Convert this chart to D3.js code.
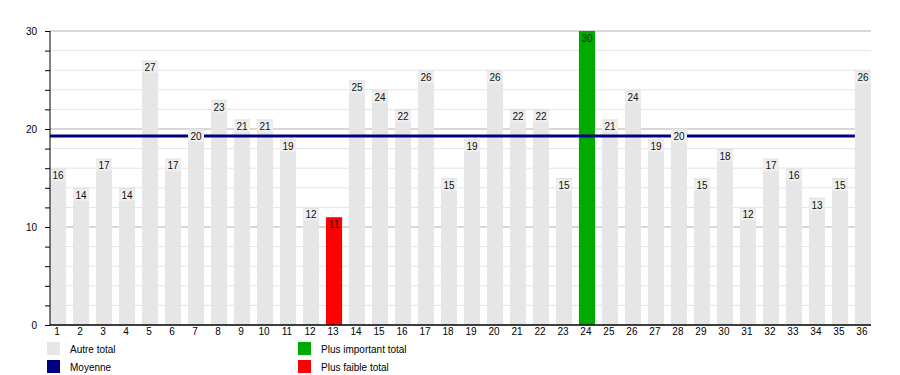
<!DOCTYPE html>
<html>
<head>
<meta charset="utf-8">
<script src="https://cdn.jsdelivr.net/npm/d3@7"></script>
<style>
  body { margin: 0; background: #fff; }
  text { font-family: "Liberation Sans", Arial, sans-serif; }
</style>
</head>
<body>
<div id="chart-container"></div>
<script>
// Data
const categories = d3.range(1, 37).map(String);
const totals = [16, 14, 17, 14, 27, 17, 20, 23, 21, 21, 19, 12, 11, 25, 24, 22, 26, 15,
                19, 26, 22, 22, 15, 30, 21, 24, 19, 20, 15, 18, 12, 17, 16, 13, 15, 26];
const yTicks = [0, 10, 20, 30];
const legendItems = [
  { label: "Autre total", color: "#e6e6e6" },
  { label: "Moyenne", color: "#000080" },
  { label: "Plus important total", color: "#00aa00" },
  { label: "Plus faible total", color: "#ff0000" }
];

const width = 900, height = 375;
const plotLeft = 50, plotRight = 871, plotTop = 31, plotBottom = 325;

const data = categories.map((c, i) => ({ cat: c, value: totals[i] }));
const maxV = d3.max(totals), minV = d3.min(totals);
const mean = d3.mean(totals);

const x = d3.scaleBand()
  .domain(categories)
  .range([plotLeft, plotRight])
  .paddingInner(0.3)
  .paddingOuter(0)
  .align(0);

const y = d3.scaleLinear()
  .domain([0, 30])
  .range([plotBottom, plotTop]);

const svg = d3.select("#chart-container")
  .append("svg")
  .attr("width", width)
  .attr("height", height);

// minor gridlines
svg.selectAll(".minor")
  .data(d3.range(2, 30, 2).filter(d => d % 10 !== 0))
  .join("line")
  .attr("x1", plotLeft).attr("x2", plotRight)
  .attr("y1", d => y(d)).attr("y2", d => y(d))
  .attr("stroke", "#e4e4e4")
  .attr("stroke-width", 1);

// major gridlines
svg.selectAll(".major")
  .data(yTicks.slice(1))
  .join("line")
  .attr("x1", plotLeft).attr("x2", plotRight)
  .attr("y1", d => y(d)).attr("y2", d => y(d))
  .attr("stroke", "#b0b0b0")
  .attr("stroke-width", 1);

// bars
const colorOf = d => d.value === maxV ? "#00aa00" : d.value === minV ? "#ff0000" : "#e6e6e6";

svg.selectAll(".bar")
  .data(data)
  .join("rect")
  .attr("x", d => x(d.cat))
  .attr("y", d => y(d.value))
  .attr("width", x.bandwidth())
  .attr("height", d => y(0) - y(d.value))
  .attr("fill", colorOf);

// mean line
svg.append("line")
  .attr("x1", plotLeft)
  .attr("x2", x(categories[categories.length - 1]))
  .attr("y1", y(mean)).attr("y2", y(mean))
  .attr("stroke", "#000080")
  .attr("stroke-width", 3);

// value labels with a small backing box
const labels = svg.selectAll(".val")
  .data(data)
  .join("g")
  .attr("transform", d => `translate(${x(d.cat) + x.bandwidth() / 2},${y(d.value)})`);

labels.append("rect")
  .attr("x", -8).attr("y", 2)
  .attr("width", 16).attr("height", 11)
  .attr("fill", d => d.value === maxV ? "#00aa00" : d.value === minV ? "#ff0000" : "#eeeeee");

labels.append("text")
  .attr("y", 11)
  .attr("text-anchor", "middle")
  .style("font-size", "10px")
  .attr("fill", d => d.value === maxV ? "#003300" : "#111")
  .text(d => d.value);

// y axis
svg.append("g")
  .attr("transform", `translate(${plotLeft},0)`)
  .call(d3.axisLeft(y).tickValues(d3.range(0, 31, 2)).tickSize(5)
    .tickFormat(d => yTicks.includes(d) ? d : ""))
  .call(g => g.select(".domain").attr("stroke", "#000").attr("d", `M0,${plotTop}V${plotBottom}`))
  .call(g => g.selectAll(".tick line").attr("stroke", "#000"))
  .call(g => g.selectAll(".tick text")
    .attr("x", -13)
    .style("font-size", "10px")
    .style("font-family", "'Liberation Sans', Arial, sans-serif")
    .attr("fill", "#000"));

// x axis
svg.append("g")
  .attr("transform", `translate(0,${plotBottom})`)
  .call(d3.axisBottom(x).tickSize(0).tickPadding(3))
  .call(g => g.select(".domain").attr("stroke", "#000").attr("stroke-width", 1.5)
    .attr("d", `M${plotLeft},0H${plotRight}`))
  .call(g => g.selectAll(".tick").attr("transform", d => `translate(${x(d) + 7},0)`))
  .call(g => g.selectAll(".tick text")
    .style("font-size", "10px")
    .style("font-family", "'Liberation Sans', Arial, sans-serif")
    .attr("fill", "#000"));

// legend
const legend = svg.selectAll(".legend")
  .data(legendItems)
  .join("g")
  .attr("transform", (d, i) => `translate(${i < 2 ? 47 : 298},${342 + (i % 2) * 18})`);

legend.append("rect")
  .attr("width", 13).attr("height", 13)
  .attr("fill", d => d.color);

legend.append("text")
  .attr("x", 23).attr("y", 10.5)
  .style("font-size", "10px")
  .attr("fill", "#000")
  .text(d => d.label);
</script>
</body>
</html>
